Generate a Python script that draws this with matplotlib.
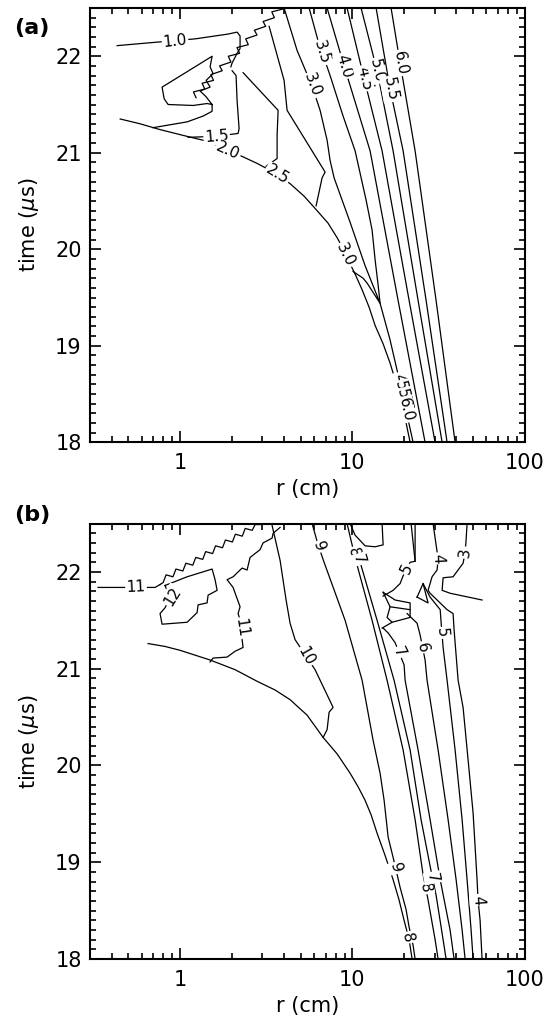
import numpy as np
import matplotlib
matplotlib.use('Agg')
import matplotlib.pyplot as plt
from matplotlib.ticker import LogLocator, MultipleLocator, NullFormatter, FixedLocator

plt.rcParams['font.family'] = ['DejaVu Sans']

# ---------------- panel (a): contour lines (r in cm, t in us)
a_front_r = [0.449, 0.586, 0.765, 1.041, 1.434, 2.004, 2.798, 3.559, 4.349, 5.245, 6.239, 7.228,
             8.152, 8.951, 9.698, 10.51, 11.39, 12.50, 13.55, 15.08, 16.55, 17.69, 18.92, 20.23, 21.63]
a_front_t = [21.35, 21.30, 21.24, 21.18, 21.12, 21.01, 20.89, 20.79, 20.68, 20.55, 20.40, 20.27,
             20.12, 19.99, 19.85, 19.72, 19.58, 19.40, 19.21, 19.02, 18.82, 18.65, 18.49, 18.25, 18.00]

a_c10_r = [0.431, 0.670, 1.222, 1.900, 2.142, 2.229, 2.229, 2.142, 2.004, 1.97]
a_c10_t = [22.11, 22.14, 22.18, 22.23, 22.25, 22.21, 22.08, 22.03, 21.93, 21.89]

a_saw_r = [1.238, 1.195, 1.391, 1.342, 1.562, 1.509, 1.756, 1.695, 1.972, 1.905, 2.215,
           2.139, 2.488, 2.403, 2.795, 2.699, 3.139, 3.032, 3.526, 3.406, 3.962]
a_saw_t = [21.57, 21.63, 21.66, 21.72, 21.75, 21.81, 21.85, 21.90, 21.94, 22.00, 22.03,
           22.09, 22.12, 22.18, 22.22, 22.27, 22.31, 22.36, 22.40, 22.46, 22.49]

a_flag_r = [0.697, 1.098, 1.360, 1.534, 1.534, 1.434, 1.190, 0.852, 0.808, 0.786,
            1.534, 1.493, 1.554, 1.416, 1.493, 1.306, 1.416, 1.534]
a_flag_t = [21.26, 21.32, 21.38, 21.43, 21.50, 21.51, 21.49, 21.50, 21.56, 21.68,
            22.00, 21.89, 21.82, 21.75, 21.68, 21.64, 21.58, 21.50]

a_c15_r = [1.113, 1.596, 2.171, 2.200, 2.142, 2.113, 2.004]
a_c15_t = [21.16, 21.17, 21.20, 21.25, 21.54, 21.80, 21.85]

a_c20_r = [2.321, 3.706, 3.656, 3.656, 3.156]
a_c20_t = [21.83, 21.44, 21.18, 20.94, 20.86]

a_c25_r = [3.286, 4.014, 4.178, 6.944, 6.670, 6.156]
a_c25_t = [22.31, 21.75, 21.44, 20.80, 20.74, 20.45]

a_c30_r = [4.014, 4.776, 5.836, 6.494, 7.132, 7.424, 7.831, 9.698, 11.85, 14.48, 12.17, 11.54, 10.09]
a_c30_t = [22.50, 22.06, 21.69, 21.44, 21.13, 20.92, 20.74, 20.28, 19.83, 19.44, 19.65, 19.70, 19.77]

a_c35_r = [5.608, 6.323, 7.424, 8.831, 10.37, 12.01, 13.01, 13.55, 14.10, 14.48, 16.55, 18.92, 22.51]
a_c35_t = [22.50, 22.16, 21.80, 21.38, 21.02, 20.51, 20.20, 19.89, 19.63, 19.44, 19.06, 18.61, 18.00]

a_c40_r = [7.132, 8.951, 12.67, 18.42, 26.42]
a_c45_r = [9.316, 11.69, 14.87, 21.34, 30.20]
a_c50_r = [11.23, 13.91, 17.23, 24.06, 33.17]
a_c55_r = [13.73, 16.55, 19.70, 26.78, 35.45]
a_c60_r = [16.77, 18.92, 23.12, 30.60, 39.46]
a_c40_t = [22.50, 21.90, 21.02, 19.47, 18.00]
a_c45_t = [22.50, 21.77, 21.02, 19.47, 18.00]
a_c50_t = [22.50, 21.85, 21.02, 19.47, 18.00]
a_c55_t = [22.50, 21.66, 21.02, 19.47, 18.00]
a_c60_t = [22.50, 21.93, 21.02, 19.47, 18.00]

# label text, r, t, line it sits on
a_labels = [('1.0', 0.935, 22.16, 'c10'), ('1.5', 1.63, 21.17, 'c15'),
            ('2.0', 1.90, 21.02, 'front'), ('2.5', 3.656, 20.77, 'front'),
            ('3.0', 5.85, 21.70, 'c30'), ('3.0', 9.07, 19.94, 'front'),
            ('3.5', 6.67, 22.04, 'c35'), ('4.0', 8.95, 21.90, 'c40'),
            ('4.5', 11.69, 21.77, 'c45'), ('5.0', 13.91, 21.85, 'c50'),
            ('5.5', 16.55, 21.66, 'c55'), ('6.0', 18.92, 21.93, 'c60'),
            ('4.5', 19.02, 18.59, 'c35'), ('5.0', 19.48, 18.51, 'c35'),
            ('5.5', 19.95, 18.43, 'c35'), ('6.0', 20.44, 18.34, 'c35')]

# ---------------- panel (b)
b_front_r = [0.652, 0.818, 1.0, 1.222, 1.493, 2.085, 2.798, 3.559, 4.349, 5.459, 6.761, 8.152,
             9.698, 10.79, 11.85, 12.84, 13.91, 15.48, 17.23, 18.66, 19.95, 21.34, 22.21]
b_front_t = [21.26, 21.23, 21.19, 21.14, 21.09, 20.99, 20.87, 20.78, 20.68, 20.52, 20.29, 20.12,
             19.92, 19.78, 19.64, 19.49, 19.30, 19.07, 18.82, 18.61, 18.40, 18.20, 18.00]

b_c11a_r = [0.334, 0.716, 0.765]
b_c11a_t = [21.84, 21.84, 21.87]

b_saw_r = [0.765, 0.797, 0.829, 0.909, 0.946, 1.038, 1.080, 1.185, 1.233, 1.353, 1.407,
           1.544, 1.606, 1.762, 1.833, 2.012, 2.093, 2.296, 2.388, 2.621, 2.726, 2.991]
b_saw_t = [21.87, 21.89, 21.97, 21.95, 22.03, 22.01, 22.09, 22.07, 22.15, 22.13, 22.21,
           22.19, 22.27, 22.25, 22.33, 22.31, 22.39, 22.37, 22.45, 22.43, 22.49, 22.49]

b_c12_r = [0.818, 1.098, 1.534, 1.596, 1.640, 1.454, 1.434, 1.272, 1.255, 1.098,
           0.786, 0.765, 0.818, 0.875, 0.818]
b_c12_t = [21.86, 21.95, 22.03, 21.92, 21.81, 21.76, 21.68, 21.66, 21.58, 21.48,
           21.46, 21.57, 21.63, 21.73, 21.86]

b_c11b_r = [3.805, 3.466, 3.420, 3.032, 2.910, 2.548, 2.448, 2.290, 2.030, 1.874,
            2.030, 2.229, 2.171, 2.259, 2.290, 2.321, 2.085, 1.874, 1.554, 1.493]
b_c11b_t = [22.46, 22.40, 22.35, 22.30, 22.23, 22.15, 22.02, 22.04, 21.95, 21.92,
            21.84, 21.64, 21.57, 21.47, 21.30, 21.22, 21.18, 21.12, 21.11, 21.07]

b_c10_r = [3.420, 3.805, 4.123, 4.349, 4.650, 6.074, 7.727, 7.325, 7.132, 6.761]
b_c10_t = [22.48, 22.12, 21.71, 21.47, 21.30, 20.99, 20.60, 20.55, 20.37, 20.29]

b_c9_r = [5.836, 6.323, 6.850, 9.072, 11.39, 13.19, 14.48, 15.28, 16.12, 17.23,
          18.92, 20.50, 21.34, 22.51, 23.12]
b_c9_t = [22.50, 22.28, 22.10, 21.50, 20.88, 20.26, 19.92, 19.64, 19.26, 19.05,
          18.74, 18.51, 18.33, 18.14, 18.00]

b_c8_r = [9.316, 9.96, 10.65, 13.01, 15.90, 19.70, 23.12, 25.72, 27.50, 30.20, 31.44]
b_c8_t = [22.50, 22.28, 22.07, 21.50, 20.88, 20.16, 19.44, 18.87, 18.61, 18.20, 18.00]

b_c7a_r = [10.51, 11.09, 13.91, 17.46, 21.63, 25.04, 28.25, 30.60, 33.61, 34.98]
b_c7a_t = [22.23, 22.10, 21.50, 20.88, 20.16, 19.44, 18.96, 18.66, 18.20, 18.00]

b_c7b_r = [15.08, 16.12, 17.69, 19.95, 20.23, 24.06, 28.25, 32.33, 36.9, 38.93]
b_c7b_t = [21.42, 21.37, 21.27, 21.04, 20.88, 20.16, 19.44, 18.82, 18.30, 18.00]

b_c6_r = [20.77, 23.74, 24.71, 26.42, 27.13, 31.44, 35.93, 39.99, 43.33, 45.10]
b_c6_t = [21.57, 21.47, 21.35, 21.09, 20.88, 20.16, 19.44, 18.82, 18.30, 18.00]

b_c5_r = [25.72, 28.25, 32.33, 32.72, 33.61, 35.45, 39.46, 43.33, 46.31, 48.86, 50.18]
b_c5_t = [21.88, 21.74, 21.61, 21.48, 21.22, 20.88, 20.16, 19.44, 18.82, 18.30, 18.00]

b_c5u_r = [15.08, 17.23, 18.92, 19.70, 21.63, 23.12, 23.12]
b_c5u_t = [21.75, 21.81, 21.88, 21.96, 22.10, 22.11, 22.50]
b_vee_r = [23.12, 21.91]
b_vee_t = [22.11, 22.50]

b_c4_r = [29.40, 30.60, 31.44, 31.02, 29.0, 27.50, 28.25, 35.45, 38.41, 38.93,
          41.08, 43.90, 46.93, 50.18, 52.92, 53.63, 55.1, 56.57]
b_c4_t = [22.50, 22.28, 22.14, 22.02, 21.95, 21.81, 21.78, 21.61, 21.57, 21.40,
          20.88, 20.60, 20.06, 19.51, 18.82, 18.61, 18.40, 18.00]

b_c3_r = [46.31, 45.70, 45.10, 43.90, 38.41, 33.61, 33.17, 36.9, 56.57]
b_c3_t = [22.50, 22.33, 22.20, 22.09, 21.95, 21.94, 21.81, 21.78, 21.71]

b_cup_r = [9.698, 10.37, 11.85, 13.55, 15.08, 14.87]
b_cup_t = [22.50, 22.38, 22.27, 22.26, 22.28, 22.50]

b_s1_r = [15.08, 16.55, 15.90, 17.0, 14.87]
b_s1_t = [21.79, 21.64, 21.53, 21.48, 21.42]
b_s2_r = [15.08, 17.69, 21.63, 21.63, 17.0]
b_s2_t = [21.79, 21.71, 21.68, 21.53, 21.48]
b_s3_r = [16.55, 21.63]
b_s3_t = [21.64, 21.61]
b_tri_r = [23.74, 25.72, 27.50, 23.74]
b_tri_t = [21.74, 21.88, 21.68, 21.74]

b_labels = [('11', 0.555, 21.84, 'c11a'), ('12', 0.899, 21.75, 'saw'),
            ('11', 2.27, 21.42, 'c11b'), ('10', 5.38, 21.13, 'c10'),
            ('9', 6.38, 22.26, 'c9'), ('9', 17.9, 18.94, 'c9'),
            ('8', 10.2, 22.20, 'c8'), ('8', 26.6, 18.73, 'c8'),
            ('7', 10.9, 22.13, 'c7a'), ('7', 29.1, 18.84, 'c7a'),
            ('7', 18.7, 21.17, 'c7b'), ('6', 25.4, 21.22, 'c6'),
            ('5', 33.1, 21.37, 'c5'), ('5', 20.6, 22.03, 'c5u'),
            ('4', 31.44, 22.14, 'c4'), ('4', 53.63, 18.61, 'c4'),
            ('3', 45.1, 22.20, 'c3'), ('8', 20.8, 18.22, 'front')]

lines_a = {'front': (a_front_r, a_front_t), 'c10': (a_c10_r, a_c10_t),
           'saw': (a_saw_r, a_saw_t), 'flag': (a_flag_r, a_flag_t),
           'c15': (a_c15_r, a_c15_t), 'c20': (a_c20_r, a_c20_t),
           'c25': (a_c25_r, a_c25_t), 'c30': (a_c30_r, a_c30_t),
           'c35': (a_c35_r, a_c35_t), 'c40': (a_c40_r, a_c40_t),
           'c45': (a_c45_r, a_c45_t), 'c50': (a_c50_r, a_c50_t),
           'c55': (a_c55_r, a_c55_t), 'c60': (a_c60_r, a_c60_t)}

lines_b = {'front': (b_front_r, b_front_t), 'c11a': (b_c11a_r, b_c11a_t),
           'saw': (b_saw_r, b_saw_t), 'c12': (b_c12_r, b_c12_t),
           'c11b': (b_c11b_r, b_c11b_t), 'c10': (b_c10_r, b_c10_t),
           'c9': (b_c9_r, b_c9_t), 'c8': (b_c8_r, b_c8_t),
           'c7a': (b_c7a_r, b_c7a_t), 'c7b': (b_c7b_r, b_c7b_t),
           'c6': (b_c6_r, b_c6_t), 'c5': (b_c5_r, b_c5_t),
           'c5u': (b_c5u_r, b_c5u_t), 'vee': (b_vee_r, b_vee_t),
           'c4': (b_c4_r, b_c4_t), 'c3': (b_c3_r, b_c3_t),
           'cup': (b_cup_r, b_cup_t), 's1': (b_s1_r, b_s1_t),
           's2': (b_s2_r, b_s2_t), 's3': (b_s3_r, b_s3_t),
           'tri': (b_tri_r, b_tri_t)}


def setup(ax):
    ax.set_xscale('log')
    ax.set_xlim(0.3, 100)
    ax.set_ylim(18, 22.5)
    ax.xaxis.set_major_locator(FixedLocator([1, 10, 100]))
    ax.set_xticklabels(['1', '10', '100'])
    ax.xaxis.set_minor_locator(LogLocator(base=10, subs=np.arange(2, 10)))
    ax.xaxis.set_minor_formatter(NullFormatter())
    ax.yaxis.set_major_locator(MultipleLocator(1))
    ax.yaxis.set_minor_locator(MultipleLocator(0.1))
    ax.tick_params(which='both', direction='in', top=True, right=True, width=1.2)
    ax.tick_params(which='major', length=8, labelsize=15)
    ax.tick_params(which='minor', length=4)
    ax.tick_params(axis='x', which='major', pad=8)
    ax.tick_params(axis='y', which='major', pad=6)
    for s in ax.spines.values():
        s.set_linewidth(1.5)
    ax.set_xlabel('r (cm)', fontsize=15, labelpad=4)
    ax.set_ylabel(r'time ($\mu$s)', fontsize=15, labelpad=10)


def label_angle(ax, r, t, lr, lt):
    pts = ax.transData.transform(np.column_stack([lr, lt]))
    p = ax.transData.transform((r, t))
    i = int(np.argmin(np.hypot(pts[:, 0] - p[0], pts[:, 1] - p[1])))
    i0 = max(i - 1, 0)
    i1 = min(i + 1, len(pts) - 1)
    dx, dy = pts[i1] - pts[i0]
    ang = np.degrees(np.arctan2(dy, dx))
    if ang >= 90:
        ang -= 180
    if ang < -90:
        ang += 180
    return ang


def draw(ax, lines, labels):
    for key, (lr, lt) in lines.items():
        ax.plot(lr, lt, color='black', lw=0.9, zorder=2)
    for txt, r, t, key in labels:
        lr, lt = lines[key]
        ang = label_angle(ax, r, t, lr, lt)
        ax.text(r, t, txt, fontsize=11, rotation=ang, rotation_mode='anchor',
                ha='center', va='center', zorder=3,
                bbox=dict(boxstyle='square,pad=0.08', fc='white', ec='none'))


fig = plt.figure(figsize=(5.58, 10.25), dpi=100)
ax_a = fig.add_axes([0.1613, 0.5685, 0.7790, 0.4237])
ax_b = fig.add_axes([0.1613, 0.0644, 0.7790, 0.4248])

setup(ax_a)
setup(ax_b)
draw(ax_a, lines_a, a_labels)
draw(ax_b, lines_b, b_labels)

fig.text(32 / 558, 1 - 28 / 1025, '(a)', fontsize=16, fontweight='bold', ha='center', va='center')
fig.text(32 / 558, 1 - 515 / 1025, '(b)', fontsize=16, fontweight='bold', ha='center', va='center')

fig.savefig('out.png', dpi=100)
